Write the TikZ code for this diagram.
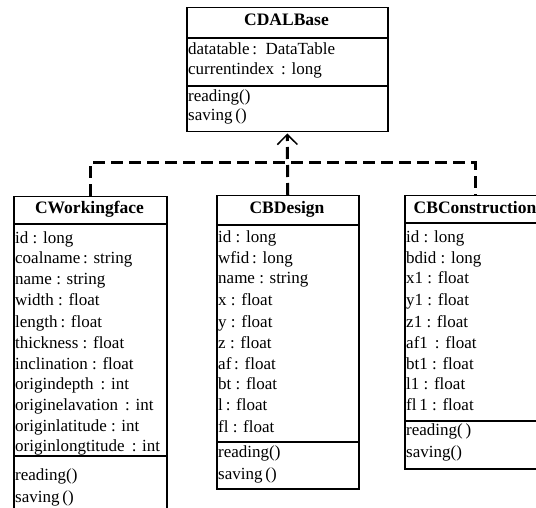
\documentclass[tikz,border=0pt]{standalone}
\usepackage{fontspec}
\setmainfont{Liberation Serif}
\usetikzlibrary{arrows.meta}
\tikzset{
  umlbox/.style={draw, line width=1.5pt, rectangle, inner sep=0pt, anchor=north west},
  sep/.style={line width=1.5pt},
  attr/.style={anchor=west, inner sep=0pt, text height=0.68em, text depth=0.22em, font=\fontsize{17}{20}\selectfont},
  ttl/.style={anchor=center, inner sep=0pt, text height=0.68em, text depth=0.22em, font=\fontsize{17.5}{20}\selectfont\bfseries},
  inh/.style={line width=3pt, dash pattern=on 12pt off 6pt},
}
\begin{document}
\begin{tikzpicture}[x=1pt,y=-1pt]
\clip (0,0) rectangle (536,508);
\fill[white] (0,0) rectangle (536,508);
% CDALBase
\node[umlbox, minimum width=201pt, minimum height=124pt] (base) at (186,7) {};
\draw[sep] (186,38) -- (387,38);
\draw[sep] (186,86) -- (387,86);
\node[ttl] (t0) at (286.5,23) {CDALBase};
\node[attr] (b1) at (188,52) {datatable\,:\ \ DataTable};
\node[attr] (b2) at (188,72) {currentindex\ \,: long};
\node[attr] (b3) at (188,99) {reading()};
\node[attr] (b4) at (188,118) {saving\,()};
% CWorkingface
\node[umlbox, minimum width=153pt, minimum height=330pt] (wf) at (13,196) {};
\draw[sep] (13,224) -- (166,224);
\draw[sep] (13,456) -- (166,456);
\node[ttl] (t1) at (89.5,211) {CWorkingface};
\node[attr] (w1) at (15,241) {id : long};
\node[attr] (w2) at (15,261) {coalname\,: string};
\node[attr] (w3) at (15,282) {name : string};
\node[attr] (w4) at (15,303) {width : float};
\node[attr] (w5) at (15,325) {length\,: float};
\node[attr] (w6) at (15,346) {thickness : float};
\node[attr] (w7) at (15,367) {inclination : float};
\node[attr] (w8) at (15,387) {origindepth\ \,: int};
\node[attr] (w9) at (15,408) {originelavation\ \,: int};
\node[attr] (w10) at (15,429) {originlatitude : int};
\node[attr] (w11) at (15,449) {originlongtitude\ \,: int};
\node[attr] (w12) at (15,478) {reading()};
\node[attr] (w13) at (15,500) {saving\,()};
% CBDesign
\node[umlbox, minimum width=142pt, minimum height=293pt] (bd) at (216,195) {};
\draw[sep] (216,225) -- (358,225);
\draw[sep] (216,442) -- (358,442);
\node[ttl] (t2) at (287,211) {CBDesign};
\node[attr] (d1) at (218,240) {id : long};
\node[attr] (d2) at (218,261) {wfid\,: long};
\node[attr] (d3) at (218,281) {name : string};
\node[attr] (d4) at (218,303) {x : float};
\node[attr] (d5) at (218,325) {y : float};
\node[attr] (d6) at (218,346) {z : float};
\node[attr] (d7) at (218,367) {af\,: float};
\node[attr] (d8) at (218,387) {bt : float};
\node[attr] (d9) at (218,408) {l\,: float};
\node[attr] (d10) at (218,430) {fl : float};
\node[attr] (d11) at (218,455) {reading()};
\node[attr] (d12) at (218,477) {saving\,()};
% CBConstruction
\node[umlbox, minimum width=142pt, minimum height=273pt] (bc) at (404,195) {};
\draw[sep] (404,223) -- (546,223);
\draw[sep] (404,421) -- (546,421);
\node[ttl] (t3) at (475,211) {CBConstruction};
\node[attr] (c1) at (406,240) {id : long};
\node[attr] (c2) at (406,261) {bdid : long};
\node[attr] (c3) at (406,281) {x1 : float};
\node[attr] (c4) at (406,303) {y1 : float};
\node[attr] (c5) at (406,325) {z1 : float};
\node[attr] (c6) at (406,346) {af1\ \,: float};
\node[attr] (c7) at (406,367) {bt1 : float};
\node[attr] (c8) at (406,387) {l1 : float};
\node[attr] (c9) at (406,408) {fl\,1 : float};
\node[attr] (c10) at (406,433) {reading(\,)};
\node[attr] (c11) at (406,455) {saving()};
% inheritance
\coordinate (j) at (287,163);
\draw[inh] (wf.north) |- (j) -| (bc.north);
\draw[inh, -{Straight Barb[line width=1.5pt, length=10pt, width=20pt]}] (bd.north) -- ([yshift=-1pt]base.south);
\end{tikzpicture}
\end{document}
